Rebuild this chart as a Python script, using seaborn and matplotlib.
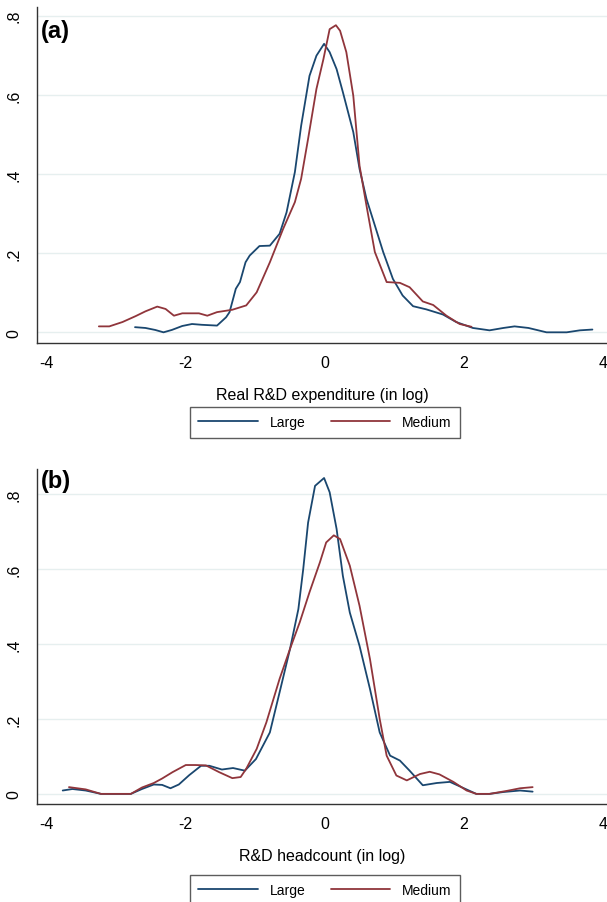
import matplotlib.pyplot as plt
import pandas as pd
import seaborn as sns

# kernel density curves
# panel (a): real R&D expenditure
large_a_x = [-2.73, -2.58, -2.44, -2.32, -2.20, -2.05, -1.91, -1.77, -1.55, -1.42, -1.37, -1.28, -1.22, -1.14,
             -1.08, -0.94, -0.79, -0.65, -0.55, -0.43, -0.34, -0.22, -0.12, -0.01, 0.07, 0.17, 0.26, 0.41, 0.50,
             0.60, 0.69, 0.84, 0.98, 1.12, 1.27, 1.46, 1.70, 1.89, 2.13, 2.37, 2.57, 2.73, 2.93, 3.19, 3.48, 3.67, 3.85]
large_a_y = [0.013, 0.011, 0.006, 0.0, 0.006, 0.016, 0.021, 0.019, 0.017, 0.038, 0.051, 0.11, 0.127, 0.177,
             0.194, 0.218, 0.219, 0.249, 0.303, 0.405, 0.522, 0.648, 0.699, 0.729, 0.708, 0.665, 0.607, 0.506, 0.413,
             0.337, 0.287, 0.203, 0.135, 0.093, 0.066, 0.058, 0.045, 0.026, 0.011, 0.005, 0.011, 0.015, 0.011, 0.0,
             0.0, 0.005, 0.007]
medium_a_x = [-3.25, -3.10, -2.91, -2.72, -2.58, -2.41, -2.29, -2.17, -2.05, -1.81, -1.69, -1.55, -1.33, -1.13,
              -0.98, -0.79, -0.60, -0.43, -0.34, -0.24, -0.12, -0.02, 0.07, 0.16, 0.22, 0.31, 0.41, 0.50, 0.60, 0.72,
              0.89, 1.08, 1.22, 1.41, 1.56, 1.75, 1.94, 2.11]
medium_a_y = [0.015, 0.015, 0.026, 0.041, 0.053, 0.065, 0.059, 0.042, 0.048, 0.048, 0.042, 0.051, 0.057, 0.068,
              0.101, 0.177, 0.261, 0.329, 0.388, 0.489, 0.615, 0.69, 0.766, 0.776, 0.762, 0.708, 0.598, 0.421, 0.32,
              0.203, 0.127, 0.125, 0.114, 0.078, 0.069, 0.042, 0.021, 0.014]

# panel (b): R&D headcount
large_b_x = [-3.77, -3.63, -3.44, -3.22, -2.79, -2.63, -2.46, -2.34, -2.22, -2.10, -1.95, -1.78, -1.66, -1.48,
             -1.32, -1.15, -0.99, -0.79, -0.65, -0.50, -0.38, -0.31, -0.24, -0.14, -0.01, 0.07, 0.17, 0.26, 0.36,
             0.50, 0.65, 0.79, 0.94, 1.08, 1.22, 1.41, 1.61, 1.80, 1.99, 2.18, 2.37, 2.57, 2.81, 2.99]
large_b_y = [0.009, 0.013, 0.009, 0.0, 0.0, 0.013, 0.025, 0.024, 0.015, 0.025, 0.05, 0.075, 0.075, 0.065,
             0.069, 0.062, 0.093, 0.164, 0.271, 0.387, 0.493, 0.6, 0.724, 0.822, 0.843, 0.805, 0.707, 0.582, 0.484,
             0.395, 0.28, 0.164, 0.102, 0.089, 0.062, 0.023, 0.029, 0.032, 0.016, 0.0, 0.0, 0.005, 0.009, 0.006]
medium_b_x = [-3.68, -3.44, -3.22, -2.79, -2.63, -2.46, -2.34, -2.19, -2.00, -1.86, -1.71, -1.52, -1.33, -1.21,
              -1.13, -0.98, -0.84, -0.65, -0.50, -0.36, -0.22, -0.07, 0.02, 0.13, 0.22, 0.36, 0.50, 0.65, 0.79,
              0.89, 1.03, 1.18, 1.37, 1.51, 1.65, 1.85, 2.04, 2.18, 2.37, 2.62, 2.81, 2.99]
medium_b_y = [0.018, 0.012, 0.0, 0.0, 0.017, 0.029, 0.041, 0.058, 0.077, 0.077, 0.076, 0.058, 0.042, 0.045,
              0.067, 0.12, 0.191, 0.307, 0.387, 0.458, 0.538, 0.618, 0.671, 0.69, 0.68, 0.609, 0.502, 0.36, 0.2,
              0.102, 0.049, 0.036, 0.053, 0.059, 0.052, 0.032, 0.009, 0.0, 0.0, 0.008, 0.015, 0.018]

groups = ["Large", "Medium"]
xticks = [-4, -2, 0, 2, 4]
xtick_labels = ["-4", "-2", "0", "2", "4"]
yticks = [0, 0.2, 0.4, 0.6, 0.8]
ytick_labels = ["0", ".2", ".4", ".6", ".8"]
palette = {"Large": "#1a476f", "Medium": "#90353b"}


def make_frame(lx, ly, mx, my):
    large = pd.DataFrame({"x": lx, "density": ly, "size": "Large"})
    medium = pd.DataFrame({"x": mx, "density": my, "size": "Medium"})
    return pd.concat([large, medium], ignore_index=True)


sns.set_theme(style="white")
plt.rcParams["font.family"] = ["Liberation Sans", "DejaVu Sans"]
plt.rcParams["axes.unicode_minus"] = False
plt.rcParams["text.color"] = "black"
plt.rcParams["axes.labelcolor"] = "black"

W, H = 607, 903
fig = plt.figure(figsize=(W / 100, H / 100), dpi=100)

# (tag, xlabel, frame, top px, bottom px, ylim, legend top px, tag y)
panels = [
    ("(a)", "Real R&D expenditure (in log)", make_frame(large_a_x, large_a_y, medium_a_x, medium_a_y),
     8, 344, (-0.027, 0.822), 408, 0.93),
    ("(b)", "R&D headcount (in log)", make_frame(large_b_x, large_b_y, medium_b_x, medium_b_y),
     470, 805, (-0.027, 0.867), 876, 0.967),
]

for tag, xlabel, df, top, bottom, ylim, leg_top, tag_y in panels:
    ax = fig.add_axes([37 / W, 1 - bottom / H, (W - 37) / W, (bottom - top) / H])
    sns.lineplot(data=df, x="x", y="density", hue="size", hue_order=groups, palette=palette,
                 linewidth=1.3, sort=False, ax=ax)
    ax.set_xlim(-4.14, 4.06)
    ax.set_ylim(*ylim)
    ax.set_xticks(xticks, labels=xtick_labels)
    ax.set_yticks(yticks)
    ax.set_yticklabels(ytick_labels, rotation=90, va="center")
    ax.tick_params(axis="both", direction="out", length=5, width=1, color="#333333",
                   labelsize=11.5, labelcolor="black")
    ax.tick_params(axis="y", pad=6)
    ax.tick_params(axis="x", pad=4)
    ax.grid(axis="y", color="#e6efef", linewidth=1)
    ax.grid(axis="x", visible=False)
    for side in ["top", "right"]:
        ax.spines[side].set_visible(False)
    for side in ["left", "bottom"]:
        ax.spines[side].set_color("#333333")
        ax.spines[side].set_linewidth(1)
    ax.set_xlabel(xlabel, fontsize=11.5, labelpad=12, color="black")
    ax.set_ylabel("")
    ax.text(0.006, tag_y, tag, transform=ax.transAxes, fontsize=17, fontweight="bold",
            color="black", ha="left", va="center")
    sns.move_legend(ax, "upper center", bbox_to_anchor=(325 / W, 1 - leg_top / H),
                    bbox_transform=fig.transFigure, ncol=2, title=None, frameon=True,
                    fancybox=False, fontsize=10, handlelength=4.3, handletextpad=0.85,
                    columnspacing=1.8, borderpad=0.6, borderaxespad=0, edgecolor="#333333")
    ax.get_legend().get_frame().set_linewidth(1)

fig.savefig("out.png", dpi=100)
